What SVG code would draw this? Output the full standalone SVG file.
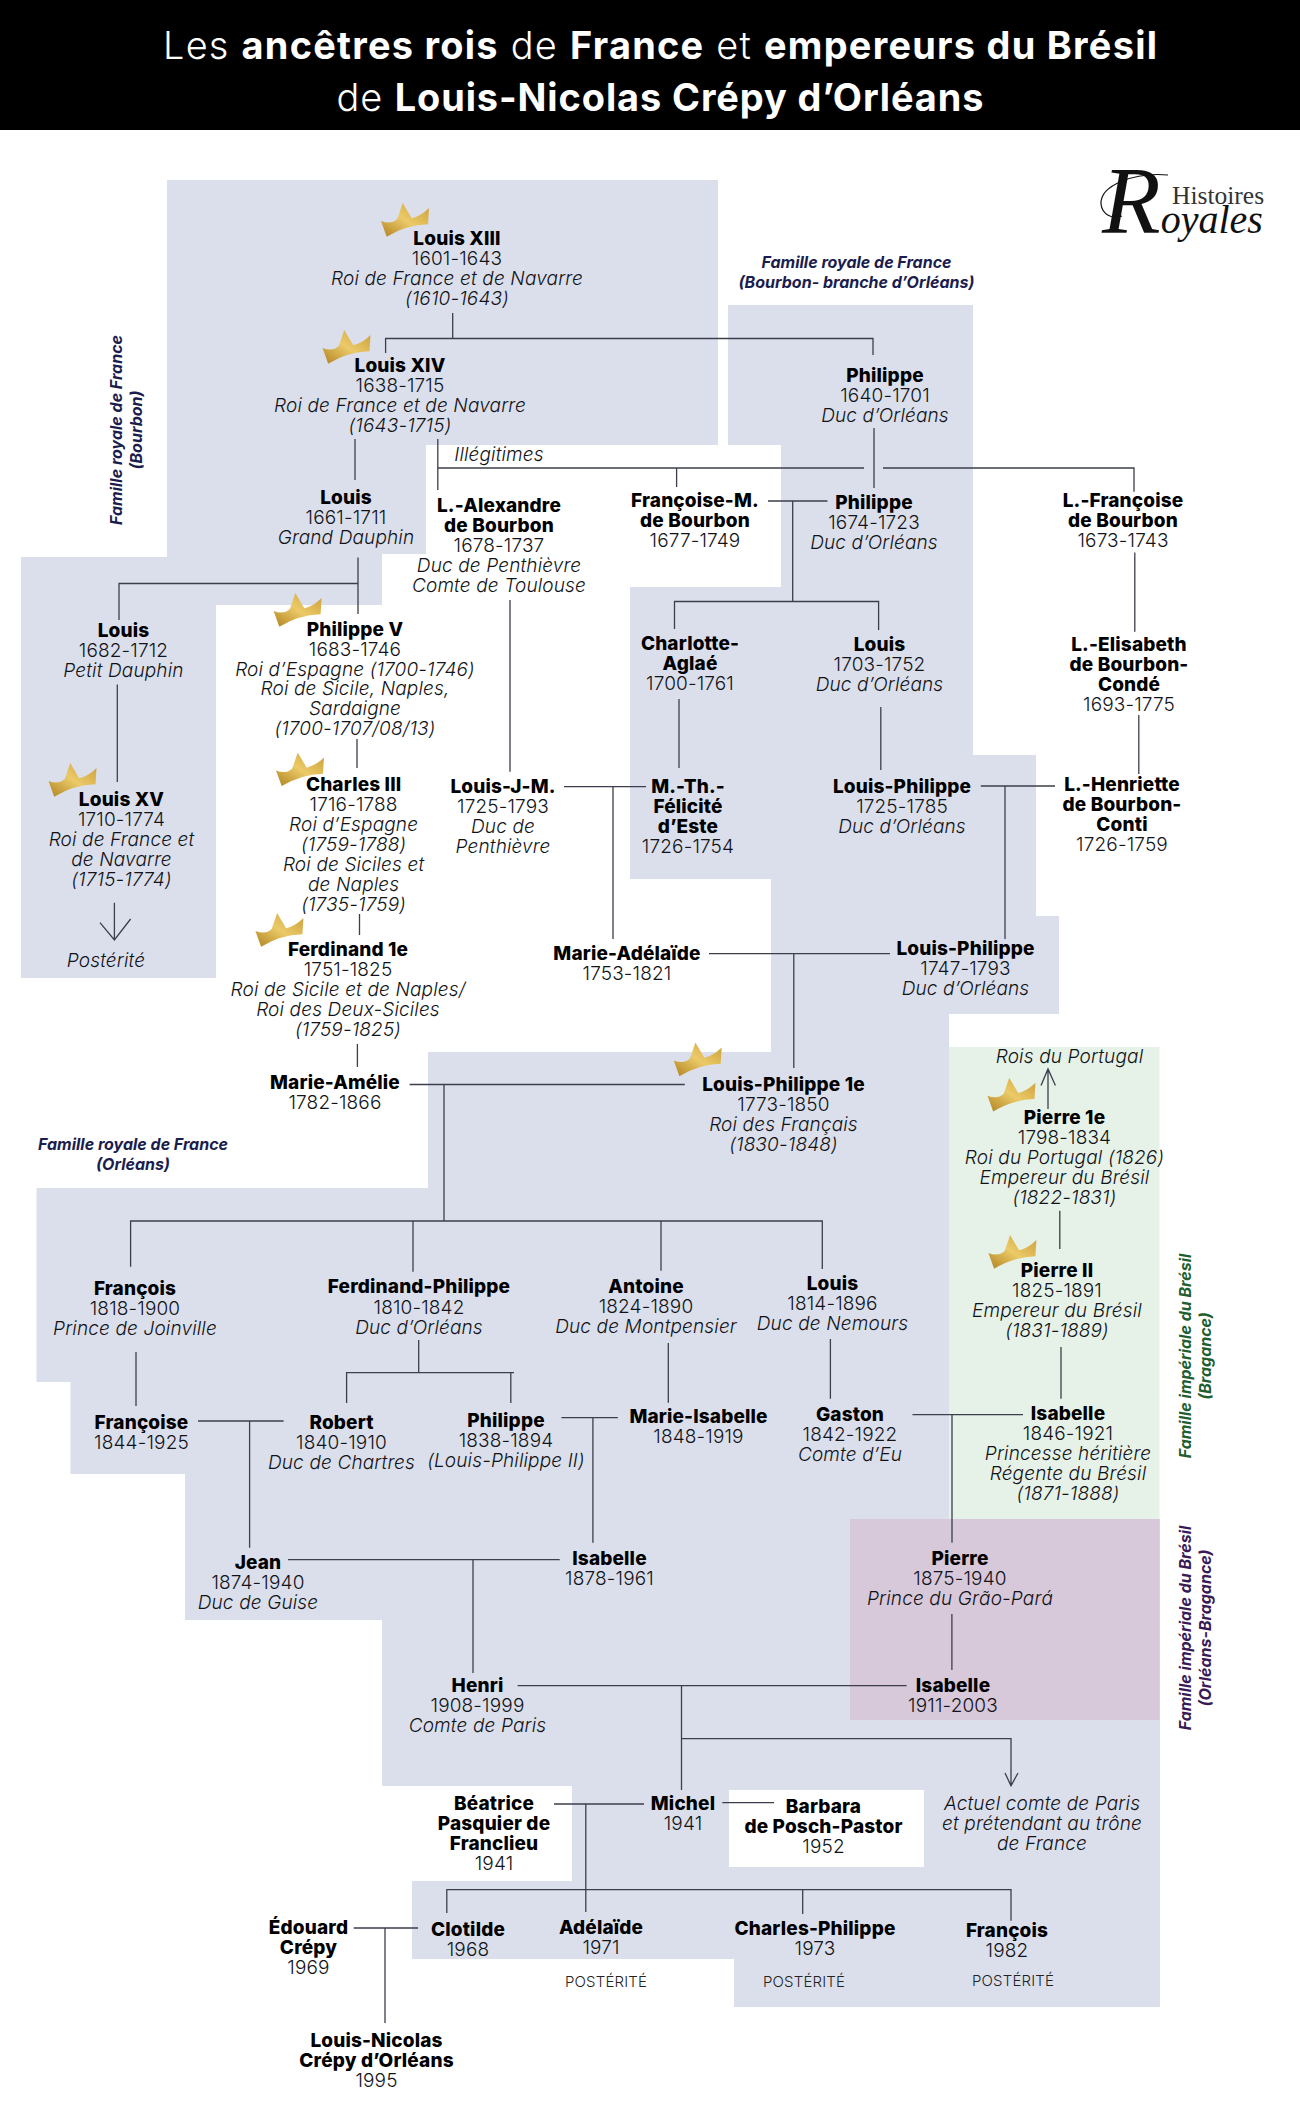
<svg xmlns="http://www.w3.org/2000/svg" width="1300" height="2109" viewBox="0 0 1300 2109">
<style>
text{font-family:Inter,"Liberation Sans",sans-serif;text-anchor:middle;fill:#111318;font-size:19px;letter-spacing:.15px}
.n{font-weight:800;fill:#000}
.d{font-weight:300}
.r{font-weight:300;font-style:italic}
.p{font-weight:300;font-size:15px;fill:#222}
.f{font-weight:700;font-style:italic;font-size:16px;fill:#1a1d4e;letter-spacing:0}
.g{fill:#1f5e2e}
.v{fill:#3a1a55}
.t{font-size:37.900px;fill:#fff;font-weight:300;letter-spacing:0}
.t tspan{font-weight:700}
.l{font-family:"Liberation Serif",serif;text-anchor:start;fill:#111;letter-spacing:0}
#connectors path{fill:none;stroke:#3c3f4b;stroke-width:1.3}
</style>
<defs>
<linearGradient id="gold" x1="0" y1="1" x2="1" y2="0"><stop offset="0" stop-color="#b08220"/><stop offset=".5" stop-color="#ecca68"/><stop offset="1" stop-color="#c99d38"/></linearGradient>
<path id="crown" fill="url(#gold)" d="M5.700 32.700L0 17Q10 21 16.300 15L21.700 -1L30.700 14.300Q40 12 48 4L47 20.300Q25 21 5.700 32.700Z"/>
</defs>
<rect width="1300" height="130" fill="#000"/>
<g id="background">
<path fill="#dbdfec" d="M167 180H718V445H426V554H382V605H216V978H21V557H167Z"/>
<path fill="#dbdfec" d="M728 305H973V755H1036V916H1059V1014H949V1519H1160V2007H734V1959H412V1881H572V1786H382V1620H185V1474H70.5V1382H36.5V1188H428V1052H771V879H630V587H781V445H728Z"/>
<rect x="729" y="1790" width="195" height="77" fill="#fff"/>
<rect x="949" y="1047" width="210.500" height="472" fill="#e6f2e8"/>
<rect x="850" y="1519" width="309.500" height="201" fill="#d7c8da"/>
</g>
<text class="t" x="660" y="59" textLength="994">Les <tspan>ancêtres rois</tspan> de <tspan>France</tspan> et <tspan>empereurs du Brésil</tspan></text>
<text class="t" x="660" y="111" textLength="647">de <tspan>Louis-Nicolas Crépy d’Orléans</tspan></text>
<g id="logo">
<text class="l" x="1172" y="204" style="font-size:25.500px;fill:#333">Histoires</text>
<text class="l" x="1102" y="233" style="font-style:italic;font-size:40px"><tspan font-size="96">R</tspan>oyales</text>
<path d="M1168 175C1135 172 1100 185 1101 204C1102 214 1112 220 1122 216" fill="none" stroke="#111" stroke-width="1.200"/>
</g>
<g id="connectors">
<path d="M452.700 313V338.500M385.600 353V338.500H873V355"/>
<path d="M874 428V488"/>
<path d="M355 439V480"/>
<path d="M437.800 439V490M437.800 468H864M883 468H1134V491.700"/>
<path d="M676.600 468V487"/>
<path d="M768 501H827.500M792.700 501V601.500M674.500 629V601.500H878.600V630"/>
<path d="M679 699V768M880.800 707V770M1134.800 552.500V631.700M1138.800 715V774"/>
<path d="M980.800 786H1055M1005 786V939"/>
<path d="M564 786.700H646M613 786.700V939"/>
<path d="M709 953.600H890M793.800 953.600V1068"/>
<path d="M409.600 1084.500H684.800M444 1084.500V1221"/>
<path d="M130.600 1266.700V1221H822.300V1269M413 1221V1271.700M661 1221V1270.700"/>
<path d="M358 557.500V614M119 620V583.500H358"/>
<path d="M117.300 684.600V782"/>
<path d="M114.400 902.700V940M100 922.600L114.400 940L130.600 919"/>
<path d="M510 600V771.800M357 739V768M359.500 914V935M357.400 1044V1067"/>
<path d="M1048 1109V1069M1041 1085.600L1048 1069L1055.400 1085.600"/>
<path d="M1059.800 1210.700V1249M1061 1347V1398.700M830.400 1339V1398.700M668.300 1343V1402.700"/>
<path d="M912.500 1414.700H1023M952 1414.700V1542.700M951.900 1614V1670"/>
<path d="M136 1352V1406M418.700 1340V1372.700M346.600 1403V1372.700H514M510.800 1372.700V1403"/>
<path d="M198 1421H283.600M249.600 1421V1547.700"/>
<path d="M561.400 1417.700H617.800M592.900 1417.700V1542.700"/>
<path d="M288 1559.700H559.700M473 1559.700V1673"/>
<path d="M517.600 1685.700H906.600M681.500 1685.700V1790M681.500 1738.700H1011V1785.700M1005 1773L1011 1785.700L1018 1773"/>
<path d="M554 1804H644M585.800 1804V1912M722.300 1802.700H774"/>
<path d="M446.800 1913V1889.700H1011V1920.700M802.700 1889.700V1914"/>
<path d="M353.700 1928H418M385 1928V2023"/>
</g>
<g id="louis-xiii"><use href="#crown" x="381" y="204"/><text class="n" x="457" y="245">Louis XIII</text><text class="d" x="457" y="265">1601-1643</text><text class="r" x="457" y="285">Roi de France et de Navarre</text><text class="r" x="457" y="305">(1610-1643)</text></g>
<g id="louis-xiv"><use href="#crown" x="322.500" y="331"/><text class="n" x="400" y="372">Louis XIV</text><text class="d" x="400" y="392">1638-1715</text><text class="r" x="400" y="412">Roi de France et de Navarre</text><text class="r" x="400" y="432">(1643-1715)</text></g>
<g id="philippe-1640"><text class="n" x="885" y="382">Philippe</text><text class="d" x="885" y="402">1640-1701</text><text class="r" x="885" y="422">Duc d’Orléans</text></g>
<g id="illegitimes"><text class="r" x="499" y="461">Illégitimes</text></g>
<g id="louis-1661"><text class="n" x="346" y="504">Louis</text><text class="d" x="346" y="524">1661-1711</text><text class="r" x="346" y="543.500">Grand Dauphin</text></g>
<g id="l-alexandre"><text class="n" x="499" y="511.500">L.-Alexandre</text><text class="n" x="499" y="531.500">de Bourbon</text><text class="d" x="499" y="552">1678-1737</text><text class="r" x="499" y="572">Duc de Penthièvre</text><text class="r" x="499" y="592">Comte de Toulouse</text></g>
<g id="francoise-m"><text class="n" x="695" y="507">Françoise-M.</text><text class="n" x="695" y="527">de Bourbon</text><text class="d" x="695" y="546.500">1677-1749</text></g>
<g id="philippe-1674"><text class="n" x="874" y="509">Philippe</text><text class="d" x="874" y="529">1674-1723</text><text class="r" x="874" y="549">Duc d’Orléans</text></g>
<g id="l-francoise"><text class="n" x="1123" y="507">L.-Françoise</text><text class="n" x="1123" y="527">de Bourbon</text><text class="d" x="1123" y="547">1673-1743</text></g>
<g id="louis-1682"><text class="n" x="123.500" y="637">Louis</text><text class="d" x="123.500" y="657">1682-1712</text><text class="r" x="123.500" y="676.500">Petit Dauphin</text></g>
<g id="philippe-v"><use href="#crown" x="273.600" y="594"/><text class="n" x="355" y="636">Philippe V</text><text class="d" x="355" y="656">1683-1746</text><text class="r" x="355" y="675.500">Roi d’Espagne (1700-1746)</text><text class="r" x="355" y="695">Roi de Sicile, Naples,</text><text class="r" x="355" y="715">Sardaigne</text><text class="r" x="355" y="735">(1700-1707/08/13)</text></g>
<g id="charles-iii"><use href="#crown" x="276" y="753.400"/><text class="n" x="353.600" y="791">Charles III</text><text class="d" x="353.600" y="811">1716-1788</text><text class="r" x="353.600" y="831">Roi d’Espagne</text><text class="r" x="353.600" y="851">(1759-1788)</text><text class="r" x="353.600" y="871">Roi de Siciles et</text><text class="r" x="353.600" y="891">de Naples</text><text class="r" x="353.600" y="910.500">(1735-1759)</text></g>
<g id="louis-j-m"><text class="n" x="503" y="793">Louis-J-M.</text><text class="d" x="503" y="813">1725-1793</text><text class="r" x="503" y="833">Duc de</text><text class="r" x="503" y="852.500">Penthièvre</text></g>
<g id="louis-xv"><use href="#crown" x="48.500" y="764"/><text class="n" x="121.500" y="805.500">Louis XV</text><text class="d" x="121.500" y="825.500">1710-1774</text><text class="r" x="121.500" y="845.500">Roi de France et</text><text class="r" x="121.500" y="865.500">de Navarre</text><text class="r" x="121.500" y="885.500">(1715-1774)</text></g>
<g id="posterite-xv"><text class="r" x="106" y="967">Postérité</text></g>
<g id="ferdinand"><use href="#crown" x="255.400" y="914"/><text class="n" x="348" y="956">Ferdinand 1e</text><text class="d" x="348" y="976">1751-1825</text><text class="r" x="348" y="996">Roi de Sicile et de Naples/</text><text class="r" x="348" y="1015.500">Roi des Deux-Siciles</text><text class="r" x="348" y="1035.500">(1759-1825)</text></g>
<g id="marie-amelie"><text class="n" x="335" y="1089">Marie-Amélie</text><text class="d" x="335" y="1109">1782-1866</text></g>
<g id="marie-adelaide"><text class="n" x="627" y="960">Marie-Adélaïde</text><text class="d" x="627" y="980">1753-1821</text></g>
<g id="charlotte-aglae"><text class="n" x="690" y="650">Charlotte-</text><text class="n" x="690" y="670">Aglaé</text><text class="d" x="690" y="690">1700-1761</text></g>
<g id="louis-1703"><text class="n" x="879.500" y="651">Louis</text><text class="d" x="879.500" y="671">1703-1752</text><text class="r" x="879.500" y="691">Duc d’Orléans</text></g>
<g id="l-elisabeth"><text class="n" x="1129" y="651">L.-Elisabeth</text><text class="n" x="1129" y="671">de Bourbon-</text><text class="n" x="1129" y="691">Condé</text><text class="d" x="1129" y="711">1693-1775</text></g>
<g id="m-th"><text class="n" x="688" y="793">M.-Th.-</text><text class="n" x="688" y="813">Félicité</text><text class="n" x="688" y="833">d’Este</text><text class="d" x="688" y="852.500">1726-1754</text></g>
<g id="louis-philippe-1725"><text class="n" x="902" y="792.500">Louis-Philippe</text><text class="d" x="902" y="812.500">1725-1785</text><text class="r" x="902" y="832.500">Duc d’Orléans</text></g>
<g id="l-henriette"><text class="n" x="1122" y="791">L.-Henriette</text><text class="n" x="1122" y="811">de Bourbon-</text><text class="n" x="1122" y="831">Conti</text><text class="d" x="1122" y="850.500">1726-1759</text></g>
<g id="louis-philippe-1747"><text class="n" x="965.500" y="955">Louis-Philippe</text><text class="d" x="965.500" y="975">1747-1793</text><text class="r" x="965.500" y="995">Duc d’Orléans</text></g>
<g id="rois-portugal"><text class="r" x="1069.500" y="1063">Rois du Portugal</text></g>
<g id="louis-philippe-1e"><use href="#crown" x="673.700" y="1043.500"/><text class="n" x="783.500" y="1090.500">Louis-Philippe 1e</text><text class="d" x="783.500" y="1110.500">1773-1850</text><text class="r" x="783.500" y="1130.500">Roi des Français</text><text class="r" x="783.500" y="1150.500">(1830-1848)</text></g>
<g id="pierre-1e"><use href="#crown" x="987.500" y="1078.700"/><text class="n" x="1064.500" y="1123.500">Pierre 1e</text><text class="d" x="1064.500" y="1143.500">1798-1834</text><text class="r" x="1064.500" y="1163.500">Roi du Portugal (1826)</text><text class="r" x="1064.500" y="1183.500">Empereur du Brésil</text><text class="r" x="1064.500" y="1203.500">(1822-1831)</text></g>
<g id="pierre-ii"><use href="#crown" x="988.400" y="1236"/><text class="n" x="1057" y="1276.500">Pierre II</text><text class="d" x="1057" y="1296.500">1825-1891</text><text class="r" x="1057" y="1316.500">Empereur du Brésil</text><text class="r" x="1057" y="1336.500">(1831-1889)</text></g>
<g id="isabelle-1846"><text class="n" x="1068" y="1420">Isabelle</text><text class="d" x="1068" y="1440">1846-1921</text><text class="r" x="1068" y="1460">Princesse héritière</text><text class="r" x="1068" y="1480">Régente du Brésil</text><text class="r" x="1068" y="1500">(1871-1888)</text></g>
<g id="gaston"><text class="n" x="850" y="1420.500">Gaston</text><text class="d" x="850" y="1440.500">1842-1922</text><text class="r" x="850" y="1460.500">Comte d’Eu</text></g>
<g id="marie-isabelle"><text class="n" x="698.500" y="1422.500">Marie-Isabelle</text><text class="d" x="698.500" y="1442.500">1848-1919</text></g>
<g id="louis-1814"><text class="n" x="832.500" y="1290">Louis</text><text class="d" x="832.500" y="1310">1814-1896</text><text class="r" x="832.500" y="1330">Duc de Nemours</text></g>
<g id="antoine"><text class="n" x="646" y="1293">Antoine</text><text class="d" x="646" y="1313">1824-1890</text><text class="r" x="646" y="1333">Duc de Montpensier</text></g>
<g id="pierre-1875"><text class="n" x="960" y="1565">Pierre</text><text class="d" x="960" y="1585">1875-1940</text><text class="r" x="960" y="1605">Prince du Grão-Pará</text></g>
<g id="isabelle-1878"><text class="n" x="609.500" y="1565">Isabelle</text><text class="d" x="609.500" y="1585">1878-1961</text></g>
<g id="jean"><text class="n" x="258" y="1568.500">Jean</text><text class="d" x="258" y="1588.500">1874-1940</text><text class="r" x="258" y="1608.500">Duc de Guise</text></g>
<g id="francois-1818"><text class="n" x="135" y="1295">François</text><text class="d" x="135" y="1315">1818-1900</text><text class="r" x="135" y="1335">Prince de Joinville</text></g>
<g id="ferdinand-philippe"><text class="n" x="419" y="1293">Ferdinand-Philippe</text><text class="d" x="419" y="1313.500">1810-1842</text><text class="r" x="419" y="1333.500">Duc d’Orléans</text></g>
<g id="francoise-1844"><text class="n" x="141.500" y="1429">Françoise</text><text class="d" x="141.500" y="1449">1844-1925</text></g>
<g id="robert"><text class="n" x="341.500" y="1429">Robert</text><text class="d" x="341.500" y="1449">1840-1910</text><text class="r" x="341.500" y="1469">Duc de Chartres</text></g>
<g id="philippe-1838"><text class="n" x="506" y="1427">Philippe</text><text class="d" x="506" y="1447">1838-1894</text><text class="r" x="506" y="1467">(Louis-Philippe II)</text></g>
<g id="henri"><text class="n" x="477.500" y="1691.500">Henri</text><text class="d" x="477.500" y="1711.500">1908-1999</text><text class="r" x="477.500" y="1731.500">Comte de Paris</text></g>
<g id="isabelle-1911"><text class="n" x="953" y="1691.500">Isabelle</text><text class="d" x="953" y="1711.500">1911-2003</text></g>
<g id="michel"><text class="n" x="683" y="1810">Michel</text><text class="d" x="683" y="1830">1941</text></g>
<g id="beatrice"><text class="n" x="494" y="1810">Béatrice</text><text class="n" x="494" y="1830">Pasquier de</text><text class="n" x="494" y="1850">Franclieu</text><text class="d" x="494" y="1870">1941</text></g>
<g id="barbara"><text class="n" x="823.500" y="1812.500">Barbara</text><text class="n" x="823.500" y="1832.500">de Posch-Pastor</text><text class="d" x="823.500" y="1852.500">1952</text></g>
<g id="actuel"><text class="r" x="1042" y="1810">Actuel comte de Paris</text><text class="r" x="1042" y="1830">et prétendant au trône</text><text class="r" x="1042" y="1850">de France</text></g>
<g id="edouard"><text class="n" x="308.500" y="1934">Édouard</text><text class="n" x="308.500" y="1954">Crépy</text><text class="d" x="308.500" y="1974">1969</text></g>
<g id="clotilde"><text class="n" x="468" y="1936">Clotilde</text><text class="d" x="468" y="1956">1968</text></g>
<g id="adelaide"><text class="n" x="601" y="1934">Adélaïde</text><text class="d" x="601" y="1954">1971</text><text class="p" x="606" y="1986.500">POSTÉRITÉ</text></g>
<g id="charles-philippe"><text class="n" x="815" y="1935">Charles-Philippe</text><text class="d" x="815" y="1955">1973</text><text class="p" x="804" y="1986.500">POSTÉRITÉ</text></g>
<g id="francois-1982"><text class="n" x="1007" y="1937">François</text><text class="d" x="1007" y="1957">1982</text><text class="p" x="1013" y="1986">POSTÉRITÉ</text></g>
<g id="louis-nicolas"><text class="n" x="376.500" y="2047">Louis-Nicolas</text><text class="n" x="376.500" y="2067">Crépy d’Orléans</text><text class="d" x="376.500" y="2087">1995</text></g>
<g id="labels">
<text class="f" transform="translate(122 430) rotate(-90)">Famille royale de France</text>
<text class="f" transform="translate(142 430) rotate(-90)">(Bourbon)</text>
<text class="f" x="856.500" y="268">Famille royale de France</text>
<text class="f" x="856.500" y="288">(Bourbon- branche d’Orléans)</text>
<text class="f" x="133" y="1150">Famille royale de France</text>
<text class="f" x="133" y="1170">(Orléans)</text>
<text class="f g" transform="translate(1191 1356) rotate(-90)">Famille impériale du Brésil</text>
<text class="f g" transform="translate(1211 1356) rotate(-90)">(Bragance)</text>
<text class="f v" transform="translate(1191 1628) rotate(-90)">Famille impériale du Brésil</text>
<text class="f v" transform="translate(1211 1628) rotate(-90)">(Orléans-Bragance)</text>
</g>
</svg>
